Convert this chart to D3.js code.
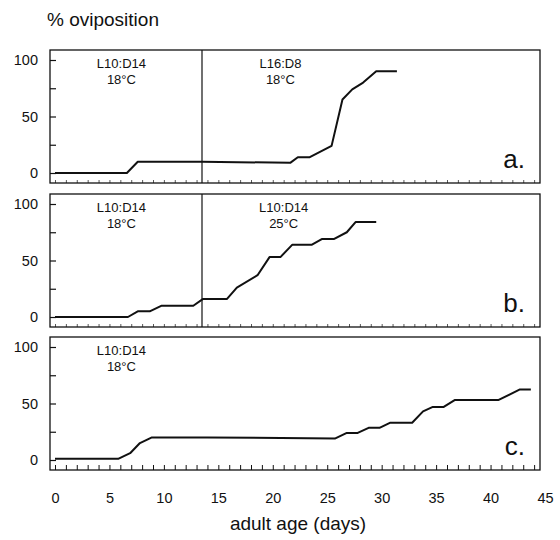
<!DOCTYPE html>
<html>
<head>
<meta charset="utf-8">
<script src="https://cdn.jsdelivr.net/npm/d3@7"></script>
<style>
  body { margin: 0; background: #fff; }
  text { font-family: "Liberation Sans", Arial, Helvetica, sans-serif; fill: #111; }
</style>
</head>
<body>
<script>
// cumulative % oviposition vs adult age (days)
let panelNames = ["a.", "b.", "c."];

let seriesA = [[0,0],[6.6,0],[7.6,10],[13.5,10],[21.6,9],[22.3,14],[23.4,14],[25.4,24],
  [26.4,65],[27.3,74],[28.3,80],[29.5,90],[31.4,90]];
let seriesB = [[0,0],[6.7,0],[7.6,5],[8.7,5],[9.8,10],[12.7,10],[13.6,16],[15.8,16],[16.7,26],
  [18.6,37],[19.7,53],[20.7,53],[21.8,64],[23.6,64],[24.5,69],[25.6,69],[26.8,75],[27.6,84],[29.5,84]];
let seriesC = [[0,1],[5.8,1],[6.9,6],[7.8,15],[8.9,20],[14,20],[25.7,19],[26.8,24],[27.8,24],
  [28.8,28.5],[29.8,28.5],[30.8,33],[32.8,33],[33.8,43],[34.7,47],[35.7,47],[36.7,53],[40.7,53],
  [42.7,62.5],[43.7,62.5]];

// photoperiod / temperature notes: [day, line1, line2]
let notesA = [[6.1,"L10:D14","18°C"],[20.7,"L16:D8","18°C"]];
let notesB = [[6.1,"L10:D14","18°C"],[21,"L10:D14","25°C"]];
let notesC = [[6.1,"L10:D14","18°C"]];

let switchDay = [13.5, 13.5, null];
let yTicks = [0, 25, 50, 75, 100];
let xTickLabels = [0, 5, 10, 15, 20, 25, 30, 35, 40, 45];

let width = 560, height = 540;
let svg = d3.select("body").append("svg").attr("width", width).attr("height", height);

let x = d3.scaleLinear().domain([0, 45]).range([55, 545]);
let frameLeft = 50, frameRight = 540;
let panelTop = [50, 194, 337], panelH = 133;

let panels = [
  {data: seriesA, notes: notesA},
  {data: seriesB, notes: notesB},
  {data: seriesC, notes: notesC}
];

panels.forEach(function(p, i){
  let top = panelTop[i];
  let y = d3.scaleLinear().domain([0, 100]).range([top + 123, top + 10]);
  let g = svg.append("g");

  // frame
  g.append("rect")
    .attr("x", frameLeft).attr("y", top)
    .attr("width", frameRight - frameLeft).attr("height", panelH)
    .attr("fill", "none").attr("stroke", "#111").attr("stroke-width", 1.3);

  // y axis, ticks pointing inward
  let ya = g.append("g").attr("transform", "translate(" + frameLeft + ",0)")
    .call(d3.axisLeft(y).tickValues(yTicks).tickSizeInner(-6).tickSizeOuter(0).tickPadding(12)
      .tickFormat(function(d){ return d % 50 === 0 ? d : ""; }));
  ya.select(".domain").remove();
  ya.selectAll("line").attr("stroke", "#111").attr("stroke-width", 1.2);
  ya.selectAll("text").style("font-size", "14.5px").attr("fill", "#111")
    .style("font-family", "'Liberation Sans', Arial, sans-serif");

  // bottom ticks every day
  let xa = g.append("g").attr("transform", "translate(0," + (top + panelH) + ")")
    .call(d3.axisBottom(x).tickValues(d3.range(0, 45, 1)).tickSizeInner(i === 2 ? -5 : -3)
      .tickSizeOuter(0).tickFormat(""));
  xa.select(".domain").remove();
  xa.selectAll("line").attr("stroke", "#111").attr("stroke-width", i === 2 ? 1 : 0.7);

  // switch of conditions
  if (switchDay[i] !== null) {
    g.append("line")
      .attr("x1", x(switchDay[i])).attr("x2", x(switchDay[i]))
      .attr("y1", top).attr("y2", top + panelH)
      .attr("stroke", "#111").attr("stroke-width", 1.2);
  }

  // data line
  g.append("path")
    .datum(p.data)
    .attr("d", d3.line().x(function(d){ return x(d[0]); }).y(function(d){ return y(d[1]); }))
    .attr("fill", "none").attr("stroke", "#111").attr("stroke-width", 2)
    .attr("stroke-linejoin", "round");

  // notes
  p.notes.forEach(function(n){
    g.append("text").attr("x", x(n[0])).attr("y", top + 18)
      .attr("text-anchor", "middle").style("font-size", "13px").text(n[1]);
    g.append("text").attr("x", x(n[0])).attr("y", top + 34)
      .attr("text-anchor", "middle").style("font-size", "13px").text(n[2]);
  });

  // panel letter
  g.append("text").attr("x", 525).attr("y", top + 118)
    .attr("text-anchor", "end").style("font-size", "26px").text(panelNames[i]);
});

// x tick labels under bottom panel
let xl = svg.append("g").attr("transform", "translate(0," + (panelTop[2] + panelH) + ")")
  .call(d3.axisBottom(x).tickValues(xTickLabels).tickSize(0).tickPadding(23));
xl.select(".domain").remove();
xl.selectAll("text").style("font-size", "14.5px").attr("fill", "#111")
  .style("font-family", "'Liberation Sans', Arial, sans-serif");

// axis titles
svg.append("text").attr("x", 47).attr("y", 26).style("font-size", "19px").text("% oviposition");
svg.append("text").attr("x", 298).attr("y", 530).attr("text-anchor", "middle")
  .style("font-size", "19px").text("adult age (days)");
</script>
</body>
</html>
